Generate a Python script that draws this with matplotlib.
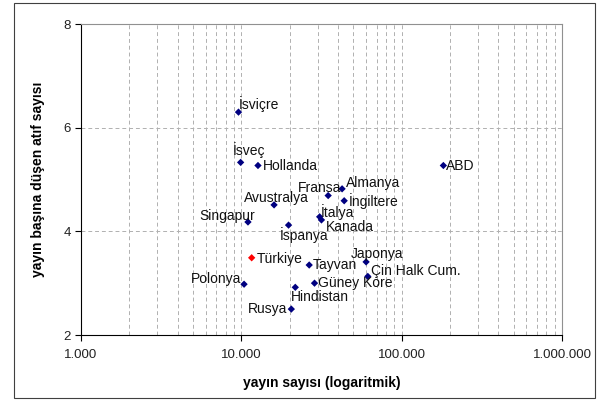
import matplotlib
matplotlib.use("Agg")
import matplotlib.pyplot as plt
from matplotlib.ticker import FixedLocator, FixedFormatter, LogLocator, NullFormatter
from matplotlib.patches import Rectangle

countries = ["İsviçre", "İsveç", "Hollanda", "ABD", "Avustralya", "Singapur", "İspanya",
             "Fransa", "Almanya", "İngiltere", "İtalya", "Kanada", "Türkiye", "Tayvan",
             "Japonya", "Çin Halk Cum.", "Polonya", "Güney Kore", "Hindistan", "Rusya"]
publications = [9600, 9900, 12700, 182000, 16000, 11000, 19700,
                34800, 42500, 43800, 30800, 31600, 11600, 26500,
                60000, 61500, 10400, 28600, 21700, 20500]
citations = [6.30, 5.33, 5.27, 5.27, 4.51, 4.18, 4.12,
             4.69, 4.82, 4.59, 4.28, 4.22, 3.49, 3.35,
             3.41, 3.13, 2.98, 3.00, 2.92, 2.50]
highlight = "Türkiye"

x_ticks = [1e3, 1e4, 1e5, 1e6]
x_ticklabels = ["1.000", "10.000", "100.000", "1.000.000"]
y_ticks = [2, 4, 6, 8]

# label offsets in pixels (dx, dy; dy positive = up) and horizontal alignment
label_style = {
    "İsviçre": (20, 8, "center"),
    "İsveç": (8, 12, "center"),
    "Hollanda": (5, 0, "left"),
    "ABD": (3, 0, "left"),
    "Avustralya": (2, 7, "center"),
    "Singapur": (-21, 6, "center"),
    "İspanya": (16, -10, "center"),
    "Fransa": (-9, 8, "center"),
    "Almanya": (31, 6, "center"),
    "İngiltere": (5, 0, "left"),
    "İtalya": (18, 5, "center"),
    "Kanada": (28, -7, "center"),
    "Türkiye": (5, -1, "left"),
    "Tayvan": (4, 0, "left"),
    "Japonya": (11, 8, "center"),
    "Çin Halk Cum.": (3, 5, "left"),
    "Polonya": (-3, 5, "right"),
    "Güney Kore": (3, 0, "left"),
    "Hindistan": (25, -10, "center"),
    "Rusya": (-4, 0, "right"),
}

plt.rcParams['font.family'] = ['Liberation Sans', 'DejaVu Sans']

fig = plt.figure(figsize=(5.97, 4.01), dpi=100)
fig.patches.append(Rectangle((14 / 597, 0.008), 1 - 14 / 597 - 0.003, 1 - 3 / 401 - 0.008,
                             transform=fig.transFigure, fill=False, edgecolor="#404040",
                             linewidth=0.8))
ax = fig.add_axes([81 / 597, 1 - 335 / 401, (562 - 81) / 597, (335 - 24) / 401])

ax.set_xscale("log")
ax.set_xlim(1e3, 1e6)
ax.set_ylim(2, 8)

ax.xaxis.set_major_locator(FixedLocator(x_ticks))
ax.xaxis.set_major_formatter(FixedFormatter(x_ticklabels))
ax.xaxis.set_minor_locator(LogLocator(base=10, subs=range(2, 10)))
ax.xaxis.set_minor_formatter(NullFormatter())
ax.yaxis.set_major_locator(FixedLocator(y_ticks))

ax.grid(True, which="both", axis="x", linestyle=(0, (4, 3)), color="#b0b0b0", linewidth=0.7)
ax.grid(True, which="major", axis="y", linestyle=(0, (4, 3)), color="#b0b0b0", linewidth=0.7)
ax.set_axisbelow(True)

for side in ["top", "right"]:
    ax.spines[side].set_color("#909090")
    ax.spines[side].set_linewidth(0.8)
for side in ["left", "bottom"]:
    ax.spines[side].set_color("black")
    ax.spines[side].set_linewidth(0.8)

ax.tick_params(axis="both", which="major", direction="out", length=4, width=0.8,
               labelsize=9.5, colors="black", labelcolor="#222222")
ax.tick_params(axis="x", which="minor", length=0)
ax.tick_params(axis="x", pad=6)

colors = ["red" if c == highlight else "#000080" for c in countries]
ax.scatter(publications, citations, marker="D", s=14, c=colors, zorder=3, linewidths=0)

for c, xv, yv in zip(countries, publications, citations):
    dx, dy, ha = label_style[c]
    ax.annotate(c, (xv, yv), xytext=(dx * 0.72, dy * 0.72), textcoords="offset points",
                ha=ha, va="center", fontsize=10, color="#111111", zorder=4)

ax.set_xlabel("yayın sayısı (logaritmik)", fontsize=10, fontweight="bold", labelpad=11)
ax.set_ylabel("yayın başına düşen atıf sayısı", fontsize=10, fontweight="bold", labelpad=13)

fig.savefig("out.png", dpi=100)
